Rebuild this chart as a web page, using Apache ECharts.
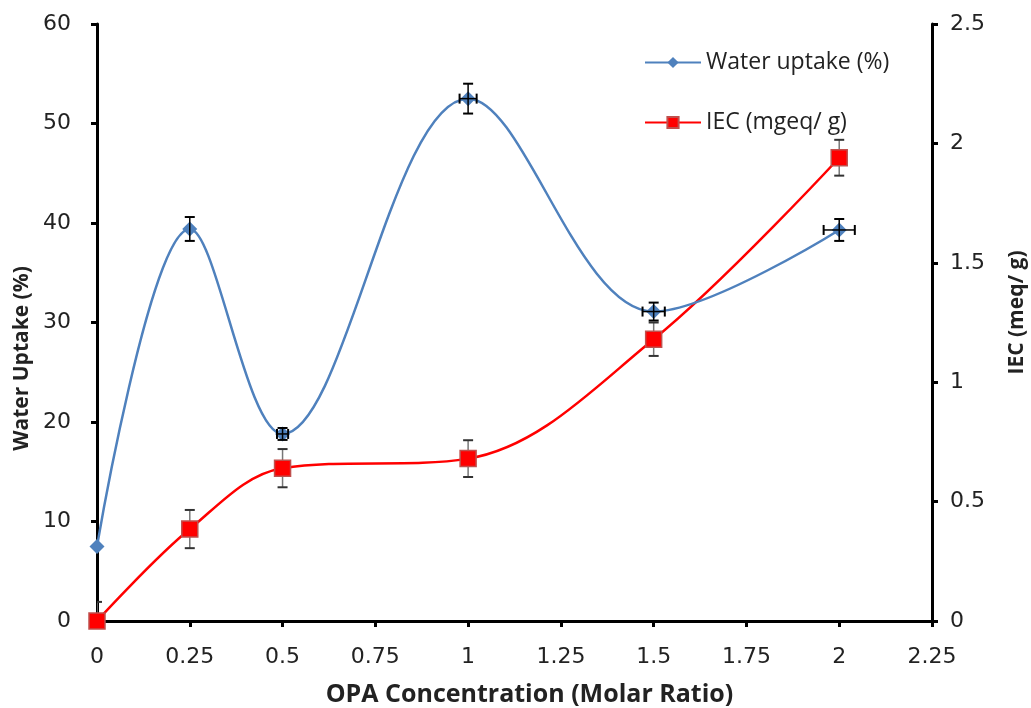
<!DOCTYPE html>
<html>
<head>
<meta charset="utf-8">
<script src="https://cdn.jsdelivr.net/npm/echarts@6/dist/echarts.min.js"></script>
<style>
html,body{margin:0;padding:0;background:#fff;}
#chart{width:1031px;height:708px;}
</style>
</head>
<body>
<div id="chart"></div>
<script>
const xValues = [0, 0.25, 0.5, 1, 1.5, 2];
const waterUptake = [7.5, 39.4, 18.8, 52.5, 31.1, 39.3];
const waterErrY = [0, 1.2, 0.6, 1.5, 0.9, 1.1];
const waterErrX = [0, 0, 0.015, 0.023, 0.03, 0.042];
const iec = [0, 0.385, 0.64, 0.68, 1.18, 1.94];
const iecErrY = [0.08, 0.08, 0.08, 0.077, 0.07, 0.075];

const xTicks = { min: 0, max: 2.25, interval: 0.25 };
const leftTicks = { min: 0, max: 60, interval: 10 };
const rightTicks = { min: 0, max: 2.5, interval: 0.5 };

const BLUE = '#4F81BD';
const RED = '#FF0000';
const tickFont = 'DejaVu Sans';
const titleFont = 'Open Sans';

const waterData = xValues.map((x, i) => [x, waterUptake[i]]);
const iecData = xValues.map((x, i) => [x, iec[i]]);
const waterErrData = xValues.map((x, i) => [x, waterUptake[i], waterErrY[i], waterErrX[i]]);
const iecErrData = xValues.map((x, i) => [x, iec[i], iecErrY[i], 0]);

function errRender(stemColor, capColor) {
  return function (params, api) {
    const x = api.value(0), y = api.value(1), ey = api.value(2), ex = api.value(3);
    const children = [];
    const cap = 5;
    const style = { stroke: stemColor, lineWidth: 1.5 };
    const capStyle = { stroke: capColor, lineWidth: 2 };
    if (ey > 0) {
      const top = api.coord([x, y + ey]);
      const bot = api.coord([x, y - ey]);
      children.push({ type: 'line', shape: { x1: top[0], y1: top[1], x2: bot[0], y2: bot[1] }, style: style });
      children.push({ type: 'line', shape: { x1: top[0] - cap, y1: top[1], x2: top[0] + cap, y2: top[1] }, style: capStyle });
      children.push({ type: 'line', shape: { x1: bot[0] - cap, y1: bot[1], x2: bot[0] + cap, y2: bot[1] }, style: capStyle });
    }
    if (ex > 0) {
      const l = api.coord([x - ex, y]);
      const r = api.coord([x + ex, y]);
      children.push({ type: 'line', shape: { x1: l[0], y1: l[1], x2: r[0], y2: r[1] }, style: style });
      children.push({ type: 'line', shape: { x1: l[0], y1: l[1] - cap, x2: l[0], y2: l[1] + cap }, style: capStyle });
      children.push({ type: 'line', shape: { x1: r[0], y1: r[1] - cap, x2: r[0], y2: r[1] + cap }, style: capStyle });
    }
    const cs = params.coordSys;
    return {
      type: 'group',
      children: children,
      clipPath: { type: 'rect', shape: { x: cs.x, y: cs.y, width: cs.width, height: cs.height } }
    };
  };
}

const axisLineStyle = { color: '#000', width: 3 };

const chart = echarts.init(document.getElementById('chart'), null, { renderer: 'canvas' });
chart.setOption({
  animation: false,
  backgroundColor: '#fff',
  grid: { left: 97, right: 99, top: 24, bottom: 87, containLabel: false, outerBoundsMode: 'none' },
  legend: {
    orient: 'vertical',
    left: 639,
    top: 46,
    itemGap: 37,
    itemWidth: 56,
    itemHeight: 14,
    textStyle: { fontFamily: titleFont, fontSize: 23, color: '#222' },
    data: ['Water uptake (%)', 'IEC (mgeq/ g)']
  },
  xAxis: {
    type: 'value',
    min: xTicks.min, max: xTicks.max, interval: xTicks.interval,
    name: 'OPA Concentration (Molar Ratio)',
    nameLocation: 'middle',
    nameGap: 61,
    nameTextStyle: { fontFamily: titleFont, fontWeight: 'bold', fontSize: 25, color: '#222', padding: [0, 0, 0, 30] },
    axisLine: { lineStyle: axisLineStyle, onZero: false },
    axisTick: { show: true, length: 6, lineStyle: { color: '#000', width: 3 } },
    axisLabel: { fontFamily: tickFont, fontSize: 22, color: '#222', margin: 25 },
    splitLine: { show: false }
  },
  yAxis: [
    {
      type: 'value', position: 'left',
      min: leftTicks.min, max: leftTicks.max, interval: leftTicks.interval,
      name: 'Water Uptake (%)',
      nameLocation: 'middle',
      nameGap: 59,
      nameRotate: 90,
      nameTextStyle: { fontFamily: titleFont, fontWeight: 'bold', fontSize: 21, color: '#222', padding: [0, 72, 0, 0] },
      axisLine: { show: true, lineStyle: axisLineStyle, onZero: false },
      axisTick: { show: true, length: 6, lineStyle: { color: '#000', width: 3 } },
      axisLabel: { fontFamily: tickFont, fontSize: 22, color: '#222', margin: 26 },
      splitLine: { show: false }
    },
    {
      type: 'value', position: 'right',
      min: rightTicks.min, max: rightTicks.max, interval: rightTicks.interval,
      name: 'IEC (meq/ g)',
      nameLocation: 'middle',
      nameGap: 75,
      nameRotate: 90,
      nameTextStyle: { fontFamily: titleFont, fontWeight: 'bold', fontSize: 21, color: '#222', padding: [0, 0, 0, 20] },
      axisLine: { show: true, lineStyle: axisLineStyle, onZero: false },
      axisTick: { show: true, length: 6, lineStyle: { color: '#000', width: 3 } },
      axisLabel: { fontFamily: tickFont, fontSize: 22, color: '#222', margin: 18 },
      splitLine: { show: false }
    }
  ],
  series: [
    {
      name: 'IEC error', type: 'custom', yAxisIndex: 1, z: 2,
      renderItem: errRender('#777', '#333'),
      data: iecErrData, silent: true
    },
    {
      name: 'IEC (mgeq/ g)', type: 'line', yAxisIndex: 1, z: 3,
      data: iecData, smooth: 0.35,
      symbol: 'rect', symbolSize: 16,
      lineStyle: { color: RED, width: 2.5 },
      itemStyle: { color: RED, borderColor: '#C0504D', borderWidth: 1.5 }
    },
    {
      name: 'Water uptake (%)', type: 'line', yAxisIndex: 0, z: 4,
      data: waterData, smooth: 0.35,
      symbol: 'diamond', symbolSize: 15,
      lineStyle: { color: BLUE, width: 2.5 },
      itemStyle: { color: BLUE }
    },
    {
      name: 'Water error', type: 'custom', yAxisIndex: 0, z: 5,
      renderItem: errRender('#000', '#000'),
      data: waterErrData, silent: true
    }
  ]
});
</script>
</body>
</html>
